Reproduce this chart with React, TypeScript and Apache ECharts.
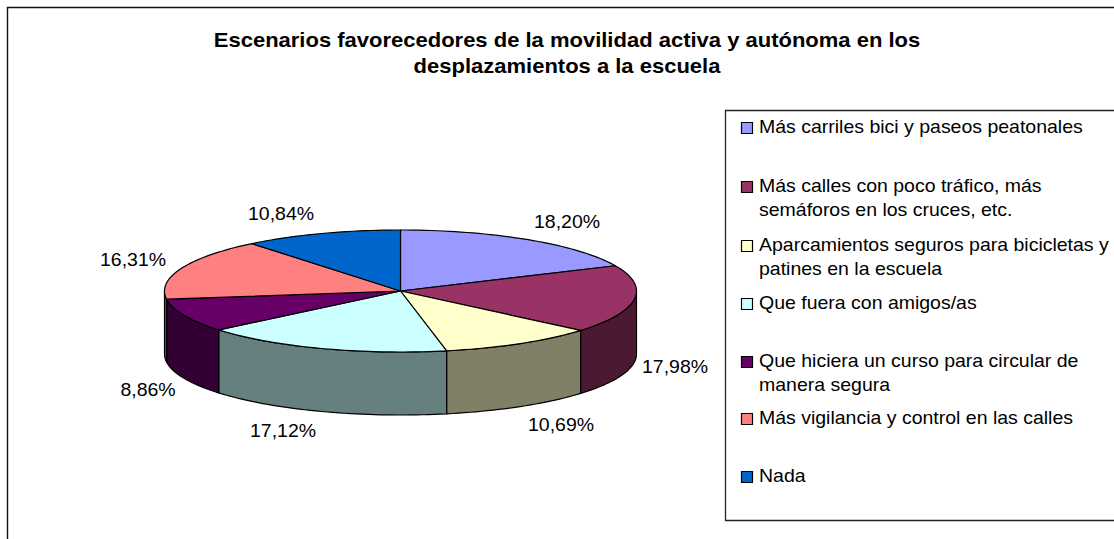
import React, { useEffect, useRef } from "react";
import * as echarts from "echarts";

const TITLE = "Escenarios favorecedores de la movilidad activa y autónoma en los\ndesplazamientos a la escuela";
const categories = [
  "Más carriles bici y paseos peatonales",
  "Más calles con poco tráfico, más\nsemáforos en los cruces, etc.",
  "Aparcamientos seguros para bicicletas y\npatines en la escuela",
  "Que fuera con amigos/as",
  "Que hiciera un curso para circular de\nmanera segura",
  "Más vigilancia y control en las calles",
  "Nada",
];
const values = [18.2, 17.98, 10.69, 17.12, 8.86, 16.31, 10.84];
const percentLabels = ["18,20%", "17,98%", "10,69%", "17,12%", "8,86%", "16,31%", "10,84%"];
const topColors = ["#9999FF", "#993366", "#FFFFCC", "#CCFFFF", "#660066", "#FF8080", "#0066CC"];
const sideColors = ["#4C4C80", "#4C1933", "#808066", "#668080", "#330033", "#804040", "#003366"];

// layout
const CX = 400.5, CY = 291, RX = 236, RY = 61, DEPTH = 63;
const labelAnchors = [[567, 222], [675, 367], [561, 425], [283, 431], [148, 390], [133, 260], [281, 214]];
const legendRowY = [128, 187, 246, 304, 362, 419, 477];
const FONT_FAMILY = "'Liberation Sans', Arial, sans-serif";
const TEXT_SIZE = 18;
const TEXT_STRETCH = 1.083;
const LINE_H = 24;

const pt = (deg: number, dy = 0) => {
  const a = (deg * Math.PI) / 180;
  return [CX + RX * Math.sin(a), CY - RY * Math.cos(a) + dy];
};
const arcPts = (a0: number, a1: number, dy = 0) => {
  const n = Math.max(2, Math.ceil((a1 - a0) / 1.5));
  const out: number[][] = [];
  for (let i = 0; i <= n; i++) out.push(pt(a0 + ((a1 - a0) * i) / n, dy));
  return out;
};

const total = values.reduce((s, v) => s + v, 0);
const starts: number[] = [];
values.reduce((acc, v) => {
  starts.push((acc / total) * 360);
  return acc + v;
}, 0);

const renderItem = (_: any, api: any) => {
  const i = api.value(0);
  const v = api.value(1);
  const a0 = starts[i];
  const a1 = a0 + (v / total) * 360;
  const line = { stroke: "#000", lineWidth: 1.2, lineJoin: "round" };
  const children: any[] = [];
  const s0 = Math.max(a0, 90);
  const s1 = Math.min(a1, 270);
  if (s1 > s0) {
    children.push({
      type: "polygon",
      z2: 1,
      shape: { points: [...arcPts(s0, s1), ...arcPts(s0, s1, DEPTH).reverse()] },
      style: { fill: sideColors[i], ...line },
    });
  }
  children.push({
    type: "polygon",
    z2: 2,
    shape: { points: [[CX, CY], ...arcPts(a0, a1)] },
    style: { fill: topColors[i], ...line },
  });
  children.push({
    type: "text",
    z2: 3,
    x: labelAnchors[i][0],
    y: labelAnchors[i][1],
    scaleX: TEXT_STRETCH,
    style: {
      text: percentLabels[i],
      align: "center",
      verticalAlign: "middle",
      fill: "#000",
      font: `${TEXT_SIZE}px ${FONT_FAMILY}`,
    },
  });
  return { type: "group", children };
};

const legendGraphics = categories.flatMap((name, i) => [
  {
    type: "rect",
    shape: { x: 741.5, y: legendRowY[i] - 5.5, width: 11, height: 11 },
    style: { fill: topColors[i], stroke: "#000", lineWidth: 1.2 },
  },
  {
    type: "text",
    x: 759,
    y: legendRowY[i] - 1.5 - LINE_H / 2,
    scaleX: TEXT_STRETCH,
    style: {
      text: name,
      verticalAlign: "top",
      fill: "#000",
      font: `${TEXT_SIZE}px ${FONT_FAMILY}`,
      lineHeight: LINE_H,
    },
  },
]);

export default function App() {
  const ref = useRef<HTMLDivElement>(null);
  useEffect(() => {
    document.body.style.margin = "0";
    const chart = echarts.init(ref.current!, undefined, { renderer: "svg" });
    chart.setOption({
      animation: false,
      backgroundColor: "#fff",
      graphic: [
        {
          type: "rect",
          z: -1,
          shape: { x: 7.5, y: 7.5, width: 1120, height: 540 },
          style: { fill: "#fff", stroke: "#111", lineWidth: 1.4 },
        },
        {
          type: "rect",
          z: -1,
          shape: { x: 725.5, y: 110.5, width: 400, height: 410 },
          style: { fill: "#fff", stroke: "#222", lineWidth: 1.3 },
        },
        {
          type: "text",
          x: 567,
          y: 27,
          scaleX: 1.1,
          style: {
            text: TITLE,
            align: "center",
            verticalAlign: "top",
            fill: "#000",
            font: `bold 20px ${FONT_FAMILY}`,
            lineHeight: 26,
          },
        },
        ...legendGraphics,
      ],
      series: [
        {
          type: "custom",
          coordinateSystem: "none",
          silent: true,
          renderItem,
          data: values.map((v, i) => [i, v]),
        },
      ],
    });
    return () => chart.dispose();
  }, []);
  return <div ref={ref} style={{ width: 1114, height: 539 }} />;
}
